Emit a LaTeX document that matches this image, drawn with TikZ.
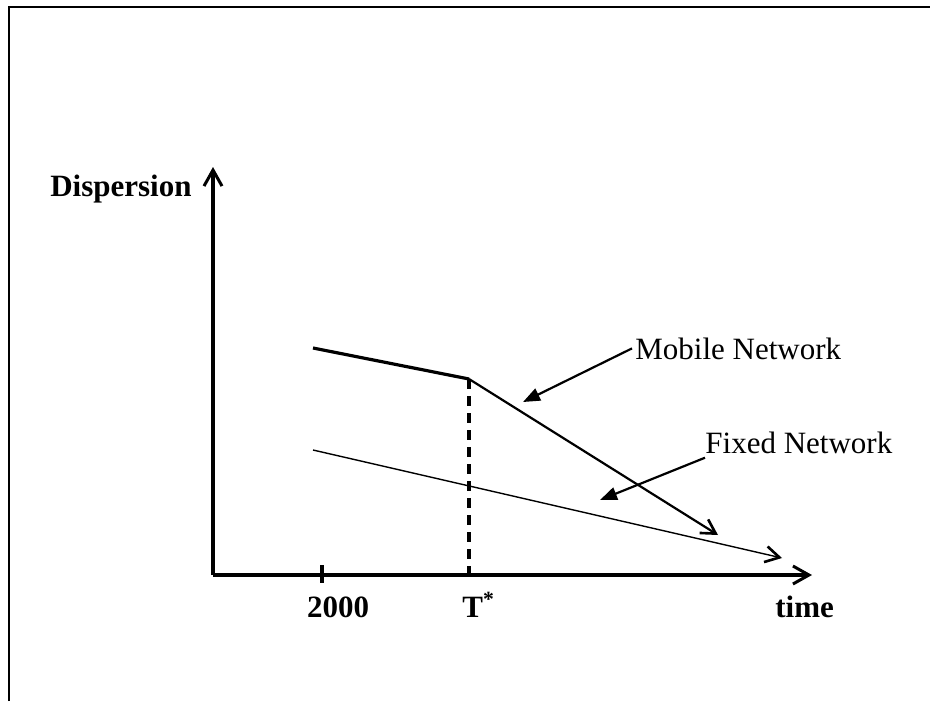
\documentclass[tikz,border=0pt]{standalone}
\usepackage{fontspec}
\setmainfont{Liberation Serif}
\usetikzlibrary{arrows.meta}

\tikzset{
  axisline/.style={line width=2pt,
    -{Straight Barb[length=8pt,width=9pt,line width=1.5pt]}},
  curvetip/.style={-{Straight Barb[length=7pt,width=8pt,line width=1.3pt]}},
  pointer/.style={line width=1.1pt,-{Triangle[length=8.5pt,width=6.5pt]}},
  label/.style={inner sep=0pt}
}

\begin{document}
\begin{tikzpicture}[x=0.5pt,y=-0.5pt,font=\fontsize{15.5}{18}\selectfont]
  \useasboundingbox (0,0) rectangle (930,701);

  % frame
  \draw[line width=1.4pt] (9,701) -- (9,7) -- (930,7);

  % axes
  \coordinate (origin) at (213,575);
  \coordinate (ytop) at (213,167);
  \coordinate (xend) at (812,575);
  \draw[axisline] (origin) -- (ytop);
  \draw[axisline] (origin) -- (xend);

  \node[label,anchor=base east,font=\fontsize{15.5}{18}\selectfont\bfseries]
    (dispersion) at (192,196) {Dispersion};
  \node[label,anchor=base west,font=\fontsize{15.5}{18}\selectfont\bfseries]
    (time) at (775,617) {time};

  % 2000 tick
  \coordinate (ticktop) at (322,565);
  \coordinate (tickbot) at (322,583);
  \draw[line width=2pt] (ticktop) -- (tickbot);
  \node[label,anchor=base,font=\fontsize{15.5}{18}\selectfont\bfseries]
    (year) at (338,617) {2000};

  % T*
  \coordinate (kink) at (469,379);
  \coordinate (kinkbase) at (469,575);
  \draw[line width=2pt,dash pattern=on 5pt off 3.5pt] (kink) -- (kinkbase);
  \node[label,anchor=base west,font=\fontsize{15.5}{18}\selectfont\bfseries]
    (tstar) at (462,617) {T\textsuperscript{*}};

  % mobile network
  \coordinate (mstart) at (313,348);
  \coordinate (mend) at (718,535);
  \draw[line width=1.6pt] (mstart) -- (kink);
  \draw[line width=1.1pt,curvetip] (kink) -- (mend);

  % fixed network
  \coordinate (fstart) at (313,450);
  \coordinate (fend) at (782,558);
  \draw[line width=0.7pt,curvetip] (fstart) -- (fend);

  % labels with pointers
  \node[label,anchor=base west] (mobile) at (635,359) {Mobile Network};
  \node[label,anchor=base west] (fixed) at (705,453) {Fixed Network};
  \coordinate (mtip) at (523,402);
  \coordinate (ftip) at (600,500);
  \draw[pointer] ([xshift=-1.5pt]mobile.west) -- (mtip);
  \draw[pointer] ([yshift=-2pt]fixed.south west) -- (ftip);
\end{tikzpicture}
\end{document}
